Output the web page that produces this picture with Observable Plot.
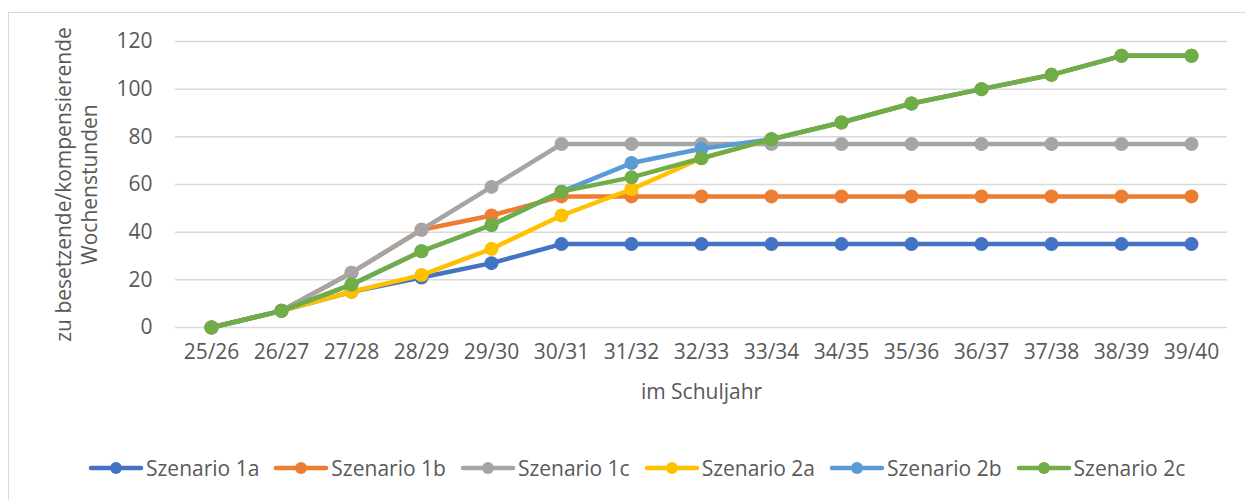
<!DOCTYPE html>
<html>
<head>
<meta charset="utf-8">
<script src="https://cdn.jsdelivr.net/npm/d3@7"></script>
<script src="https://cdn.jsdelivr.net/npm/@observablehq/plot@0.6"></script>
<style>
  html, body { margin: 0; padding: 0; background: #fff; }
  body { width: 1246px; height: 500px; position: relative; overflow: hidden; font-family: "Open Sans", sans-serif; }
  #border { position: absolute; left: 8px; top: 12px; width: 1400px; height: 700px; border-left: 1px solid #d9d9d9; border-top: 1px solid #d9d9d9; }
  #chart { position: absolute; left: 0; top: 0; }
  #legend { position: absolute; left: 88px; top: 454px; display: flex; align-items: center; gap: 14px; font-size: 21px; color: #595959; white-space: nowrap; }
  .item { display: flex; align-items: center; gap: 2px; }
</style>
</head>
<body>
<div id="border"></div>
<div id="chart"></div>
<div id="legend"></div>
<script>
const years = ["25/26","26/27","27/28","28/29","29/30","30/31","31/32","32/33","33/34","34/35","35/36","36/37","37/38","38/39","39/40"];
const seriesNames = ["Szenario 1a","Szenario 1b","Szenario 1c","Szenario 2a","Szenario 2b","Szenario 2c"];
const seriesColors = ["#4472C4","#ED7D31","#A5A5A5","#FFC000","#5B9BD5","#70AD47"];
const s1a = [0,7,15,21,27,35,35,35,35,35,35,35,35,35,35];
const s1b = [0,7,23,41,47,55,55,55,55,55,55,55,55,55,55];
const s1c = [0,7,23,41,59,77,77,77,77,77,77,77,77,77,77];
const s2a = [0,7,15,22,33,47,58,71,79,86,94,100,106,114,114];
const s2b = [0,7,18,32,43,57,69,75,79,86,94,100,106,114,114];
const s2c = [0,7,18,32,43,57,63,71,79,86,94,100,106,114,114];
const yTicks = [0,20,40,60,80,100,120];
const yTitle = "zu besetzende/kompensierende\nWochenstunden";
const xTitle = "im Schuljahr";

const allValues = [s1a,s1b,s1c,s2a,s2b,s2c];
const rows = seriesNames.map((name, i) => years.map((y, j) => ({series: name, year: y, value: allValues[i][j]})));

const marks = [
  Plot.gridY(yTicks, {stroke: "#d9d9d9", strokeOpacity: 1, strokeWidth: 1.5}),
  Plot.axisY(yTicks, {tickSize: 0, tickPadding: 23, fontSize: 21, fill: "#595959", label: null}),
  Plot.axisX({tickSize: 0, tickPadding: 17, fontSize: 21, fill: "#595959", label: null}),
  Plot.text([yTitle], {frameAnchor: "left", textAnchor: "middle", dx: -100, rotate: -90, fontSize: 21, fill: "#595959", lineAnchor: "middle", lineHeight: 1.25}),
  Plot.text([xTitle], {frameAnchor: "bottom", textAnchor: "middle", dy: 71, fontSize: 21, fill: "#595959"})
];
rows.forEach((data, i) => {
  marks.push(Plot.line(data, {x: "year", y: "value", stroke: seriesColors[i], strokeWidth: 4.5}));
  marks.push(Plot.dot(data, {x: "year", y: "value", fill: seriesColors[i], r: 7}));
});

const chart = Plot.plot({
  width: 1246,
  height: 430,
  marginTop: 41,
  marginBottom: 103,
  marginLeft: 175,
  marginRight: 19,
  style: {fontFamily: "Open Sans, sans-serif", background: "transparent", color: "#595959"},
  x: {type: "point", domain: years, padding: 0.5, align: 0.5},
  y: {domain: [0,120]},
  marks
});
document.getElementById("chart").appendChild(chart);

const legend = document.getElementById("legend");
seriesNames.forEach((name, i) => {
  const item = document.createElement("div");
  item.className = "item";
  item.innerHTML = `<svg width="56" height="14"><line x1="3" y1="7" x2="53" y2="7" stroke="${seriesColors[i]}" stroke-width="4.5" stroke-linecap="round"/><circle cx="28" cy="7" r="6" fill="${seriesColors[i]}"/></svg><span>${name}</span>`;
  legend.appendChild(item);
});
</script>
</body>
</html>
